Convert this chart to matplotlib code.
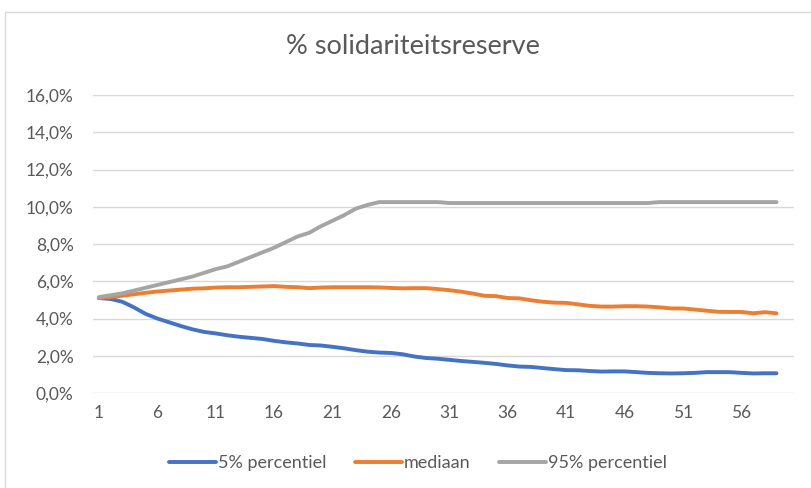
import matplotlib.pyplot as plt
from matplotlib.patches import Rectangle
from matplotlib.ticker import FuncFormatter, MultipleLocator

plt.rcParams['font.family'] = ['Lato', 'DejaVu Sans']

# periods 1..59
periods = list(range(1, 60))

p05 = [5.10, 5.05, 4.90, 4.60, 4.25, 4.00, 3.80, 3.60, 3.42, 3.28,
       3.20, 3.10, 3.02, 2.96, 2.90, 2.80, 2.72, 2.66, 2.58, 2.55,
       2.48, 2.40, 2.30, 2.22, 2.17, 2.15, 2.08, 1.96, 1.88, 1.84,
       1.78, 1.72, 1.67, 1.62, 1.56, 1.48, 1.42, 1.40, 1.34, 1.28,
       1.23, 1.22, 1.18, 1.15, 1.16, 1.16, 1.12, 1.08, 1.06, 1.05,
       1.06, 1.08, 1.12, 1.12, 1.12, 1.08, 1.05, 1.06, 1.06]

median = [5.10, 5.15, 5.22, 5.30, 5.38, 5.45, 5.50, 5.55, 5.60, 5.62,
          5.66, 5.68, 5.68, 5.70, 5.72, 5.74, 5.70, 5.68, 5.63, 5.66,
          5.68, 5.68, 5.68, 5.68, 5.67, 5.64, 5.62, 5.63, 5.63, 5.58,
          5.52, 5.44, 5.34, 5.22, 5.20, 5.10, 5.08, 4.98, 4.90, 4.85,
          4.84, 4.76, 4.68, 4.64, 4.64, 4.66, 4.66, 4.64, 4.60, 4.54,
          4.54, 4.48, 4.42, 4.36, 4.35, 4.35, 4.28, 4.34, 4.28]

p95 = [5.15, 5.25, 5.35, 5.50, 5.65, 5.80, 5.95, 6.10, 6.25, 6.45,
       6.65, 6.80, 7.05, 7.30, 7.55, 7.80, 8.10, 8.40, 8.60, 8.95,
       9.25, 9.55, 9.90, 10.10, 10.25, 10.25, 10.25, 10.25, 10.25, 10.25,
       10.20, 10.20, 10.20, 10.20, 10.20, 10.20, 10.20, 10.20, 10.20, 10.20,
       10.20, 10.20, 10.20, 10.20, 10.20, 10.20, 10.20, 10.20, 10.25, 10.25,
       10.25, 10.25, 10.25, 10.25, 10.25, 10.25, 10.25, 10.25, 10.25]

labels = ['5% percentiel', 'mediaan', '95% percentiel']
colors = ['#4472C4', '#ED7D31', '#A5A5A5']
xticks = list(range(1, 57, 5))

text_col = '#595959'

fig = plt.figure(figsize=(8.11, 4.88), dpi=100)
fig.patches.append(Rectangle((5 / 811, -0.1), 1.1, 1.1 - 12 / 488,
                             transform=fig.transFigure, fill=False,
                             edgecolor='#d9d9d9', linewidth=1))
ax = fig.add_axes([93 / 811, 1 - 393 / 488, (794 - 93) / 811, (393 - 95) / 488])

for series, lab, col in zip([p05, median, p95], labels, colors):
    ax.plot(periods, series, color=col, linewidth=2.8, label=lab,
            solid_capstyle='round')

ax.set_xlim(0.5, 60.5)
ax.set_ylim(0, 16)
ax.yaxis.set_major_locator(MultipleLocator(2))
ax.yaxis.set_major_formatter(FuncFormatter(lambda v, p: f'{v:.1f}%'.replace('.', ',')))
ax.set_xticks(xticks)
ax.grid(axis='y', color='#d9d9d9', linewidth=1)
ax.set_axisbelow(True)
for s in ax.spines.values():
    s.set_visible(False)
ax.tick_params(axis='both', length=0, labelsize=12.5, colors=text_col)
ax.tick_params(axis='y', pad=14)
ax.tick_params(axis='x', pad=9)

fig.text(413 / 811, 1 - 47 / 488, '% solidariteitsreserve', ha='center', va='center',
         fontsize=19.5, color=text_col)

fig.legend(loc='center', bbox_to_anchor=(418 / 811, 1 - 463 / 488), ncol=3,
           frameon=False, fontsize=13, handlelength=2.6, handletextpad=0.1,
           columnspacing=1.6, labelcolor=text_col)

fig.savefig('out.png', dpi=100)
